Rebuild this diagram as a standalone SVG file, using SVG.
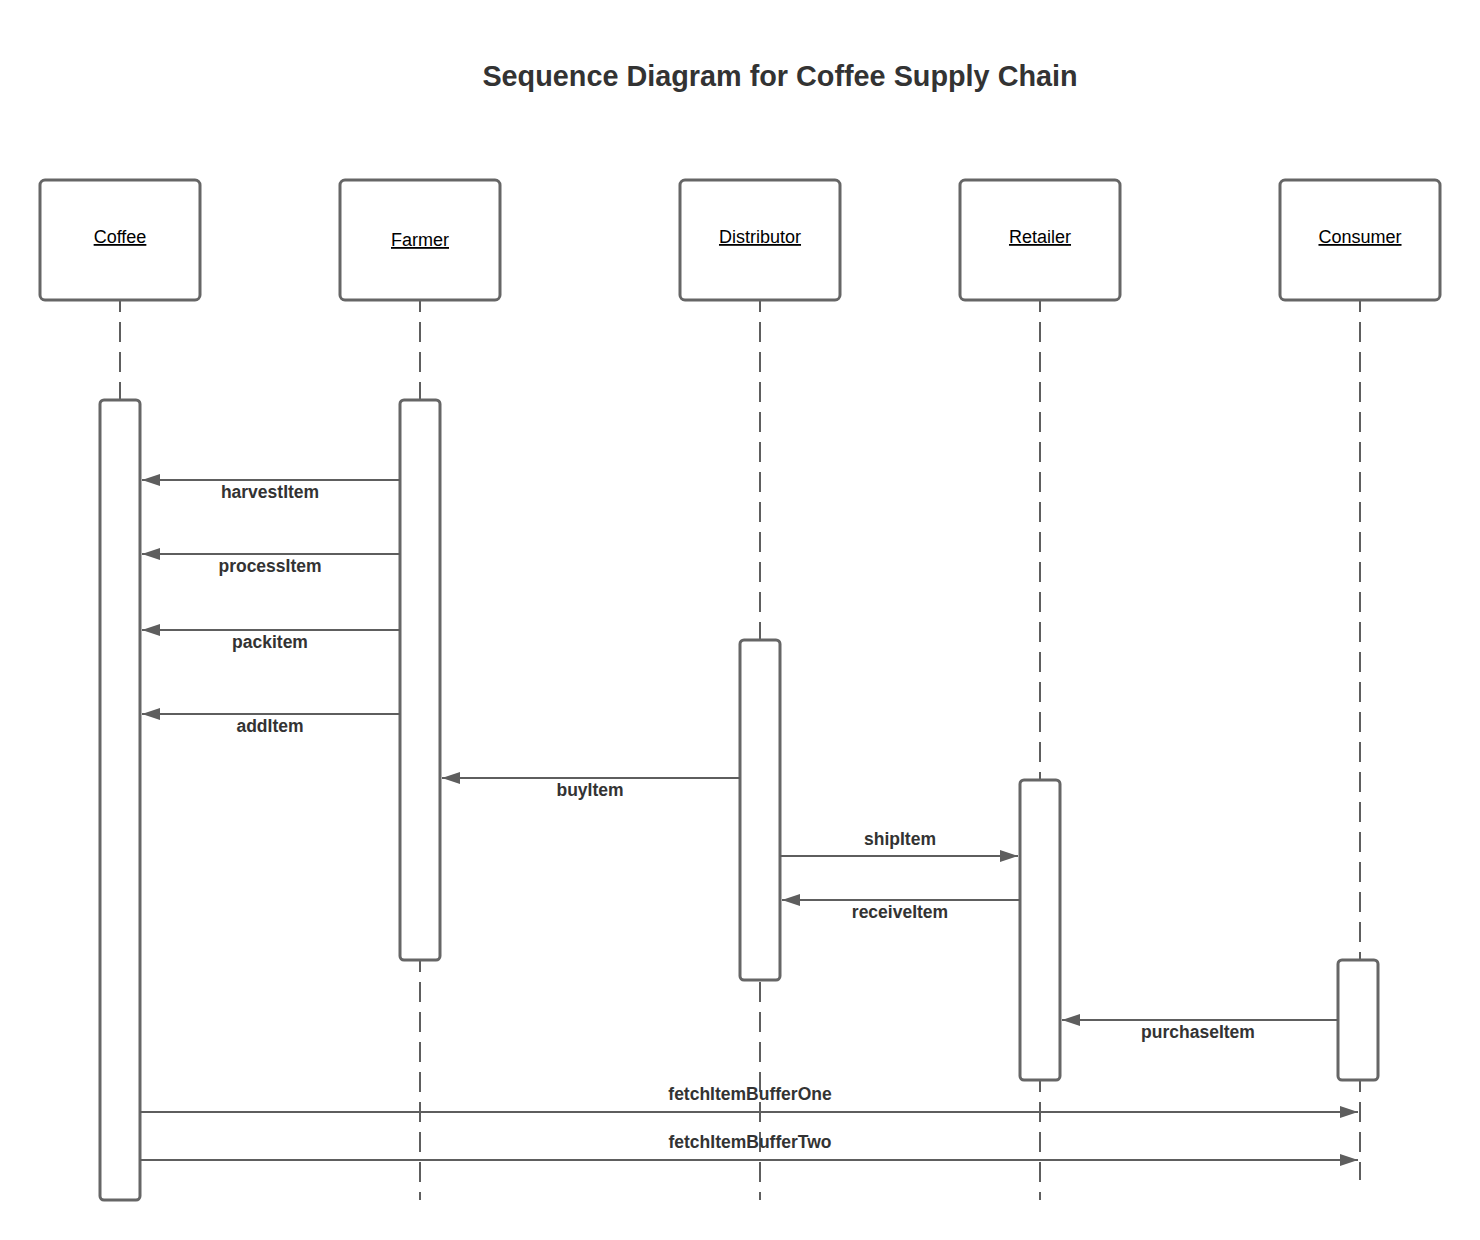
<svg xmlns="http://www.w3.org/2000/svg" width="1480" height="1240" viewBox="0 0 1480 1240">
<defs>
<style>
.box{fill:#fff;stroke:#666;stroke-width:3}
.life{stroke:#5e5e5e;stroke-width:2;stroke-dasharray:20 10;stroke-dashoffset:8;fill:none}
.msg{stroke:#5e5e5e;stroke-width:2;fill:none;marker-end:url(#ah)}
.title{font-family:"Liberation Sans",Arial,sans-serif;font-weight:bold;font-size:28.8px;fill:#333;text-anchor:middle}
.pl{font-family:"Liberation Sans",Arial,sans-serif;font-size:18px;fill:#000;text-anchor:middle;text-decoration:underline}
.ml{font-family:"Liberation Sans",Arial,sans-serif;font-weight:bold;font-size:17.5px;fill:#333;text-anchor:middle}
</style>
<marker id="ah" markerUnits="userSpaceOnUse" markerWidth="18" markerHeight="12" refX="18" refY="6" orient="auto" viewBox="0 0 18 12">
<path d="M0,0 L18,6 L0,12 z" fill="#5e5e5e"/>
</marker>
</defs>
<rect width="1480" height="1240" fill="#fff"/>
<text class="title" x="780" y="86">Sequence Diagram for Coffee Supply Chain</text>

<g id="lifelines">
<line class="life" x1="120" y1="300" x2="120" y2="400"/>
<line class="life" x1="420" y1="300" x2="420" y2="1200"/>
<line class="life" x1="760" y1="300" x2="760" y2="1200"/>
<line class="life" x1="1040" y1="300" x2="1040" y2="1200"/>
<line class="life" x1="1360" y1="300" x2="1360" y2="1180"/>
</g>

<g id="coffee">
<rect class="box" x="40" y="180" width="160" height="120" rx="5"/>
<text class="pl" x="120" y="243">Coffee</text>
<rect class="box" x="100" y="400" width="40" height="800" rx="4"/>
</g>
<g id="farmer">
<rect class="box" x="340" y="180" width="160" height="120" rx="5"/>
<text class="pl" x="420" y="246">Farmer</text>
<rect class="box" x="400" y="400" width="40" height="560" rx="4"/>
</g>
<g id="distributor">
<rect class="box" x="680" y="180" width="160" height="120" rx="5"/>
<text class="pl" x="760" y="243">Distributor</text>
<rect class="box" x="740" y="640" width="40" height="340" rx="4"/>
</g>
<g id="retailer">
<rect class="box" x="960" y="180" width="160" height="120" rx="5"/>
<text class="pl" x="1040" y="243">Retailer</text>
<rect class="box" x="1020" y="780" width="40" height="300" rx="4"/>
</g>
<g id="consumer">
<rect class="box" x="1280" y="180" width="160" height="120" rx="5"/>
<text class="pl" x="1360" y="243">Consumer</text>
<rect class="box" x="1338" y="960" width="40" height="120" rx="4"/>
</g>

<g id="connectors">
<line class="msg" x1="400" y1="480" x2="142" y2="480"/>
<text class="ml" x="270" y="498">harvestItem</text>
<line class="msg" x1="400" y1="554" x2="142" y2="554"/>
<text class="ml" x="270" y="572">processItem</text>
<line class="msg" x1="400" y1="630" x2="142" y2="630"/>
<text class="ml" x="270" y="648">packitem</text>
<line class="msg" x1="400" y1="714" x2="142" y2="714"/>
<text class="ml" x="270" y="732">addItem</text>
<line class="msg" x1="740" y1="778" x2="442" y2="778"/>
<text class="ml" x="590" y="796">buyItem</text>
<line class="msg" x1="780" y1="856" x2="1018" y2="856"/>
<text class="ml" x="900" y="845">shipItem</text>
<line class="msg" x1="1020" y1="900" x2="782" y2="900"/>
<text class="ml" x="900" y="918">receiveItem</text>
<line class="msg" x1="1338" y1="1020" x2="1062" y2="1020"/>
<text class="ml" x="1198" y="1038">purchaseItem</text>
<line class="msg" x1="140" y1="1112" x2="1358" y2="1112"/>
<text class="ml" x="750" y="1100">fetchItemBufferOne</text>
<line class="msg" x1="140" y1="1160" x2="1358" y2="1160"/>
<text class="ml" x="750" y="1148">fetchItemBufferTwo</text>
</g>
</svg>
